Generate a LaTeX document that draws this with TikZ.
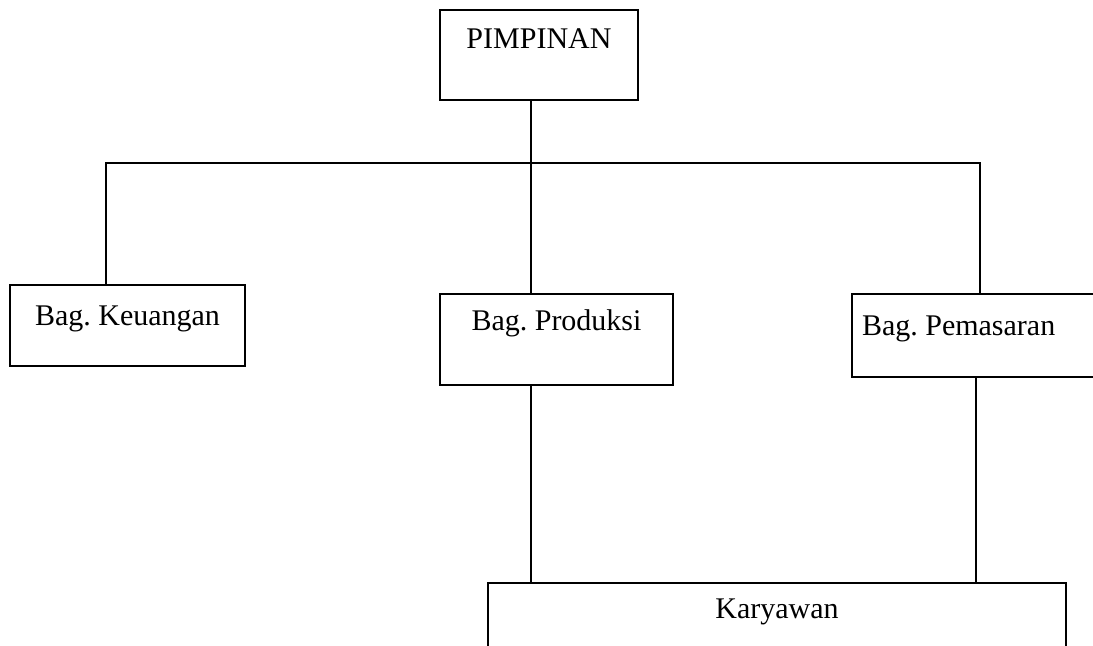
\documentclass[tikz,border=0pt]{standalone}
\usepackage{fontspec}
\setmainfont{Liberation Serif}
\frenchspacing
\begin{document}
\begin{tikzpicture}[x=0.5pt, y=-0.5pt]
	\tikzstyle{box}=[draw, line width=1.3pt, rectangle, inner sep=0pt, font=\fontsize{15}{18}\selectfont]
	\tikzstyle{link}=[draw, line width=1.3pt]
	\newcommand\Ybar{163}
	\newcommand\Xtrunk{531}

	\path [use as bounding box, clip] (0,0) rectangle (1093,645);

	% Boxes
	\node [box, minimum width=99pt, text height=19pt, text depth=26pt] at (539,55) (pimpinan) {PIMPINAN};
	\node [box, minimum width=117.5pt, text height=20pt, text depth=20.5pt] at (127.5,325.5) (keuangan) {Bag. Keuangan};
	\node [box, minimum width=116.5pt, text height=18pt, text depth=27.5pt] at (556.5,339.5) (produksi) {Bag. Produksi};
	\node [box, inner xsep=5pt, text width=114pt, align=flush left, text height=20.5pt, text depth=21pt] at (976,335.5) (pemasaran) {Bag. Pemasaran};
	\node [box, minimum width=289pt, text height=17.5pt, text depth=32.5pt] at (777,633) (karyawan) {Karyawan};

	\coordinate (trunk) at (\Xtrunk,\Ybar);

	% Lines
	\path [link] (pimpinan.south -| trunk) -- (produksi.north -| trunk);
	\path [link] ([xshift=-10.75pt]keuangan.north) |- (trunk) -| ([xshift=2pt]pemasaran.north);
	\path [link] (produksi.south -| trunk) -- (karyawan.north -| trunk);
	\path [link] (pemasaran.south) -- (karyawan.north -| pemasaran.south);

\end{tikzpicture}
\end{document}
